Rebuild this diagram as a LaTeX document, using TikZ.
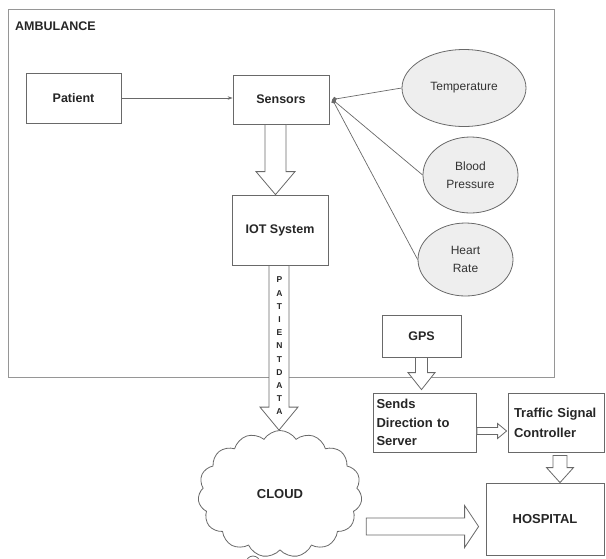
\documentclass[tikz,border=0pt]{standalone}
\usepackage{fontspec}
\setmainfont{Liberation Sans}
\usetikzlibrary{shapes.geometric}
\usetikzlibrary{shapes.symbols}
\usetikzlibrary{arrows.meta}
\usetikzlibrary{calc}

\definecolor{linegray}{RGB}{105,105,105}
\definecolor{framegray}{RGB}{150,150,150}
\definecolor{bubble}{RGB}{238,238,238}

% hollow block arrows: from, to, half shaft, half head, head length
\newcommand{\fatdown}[5]{%
  \draw[fat] let \p1=(#1), \p2=(#2) in
    (\x1-#3,\y1) -- (\x1-#3,\y2+#5) -- (\x1-#4,\y2+#5) -- (\x1,\y2)
    -- (\x1+#4,\y2+#5) -- (\x1+#3,\y2+#5) -- (\x1+#3,\y1) -- cycle;}
\newcommand{\fatright}[5]{%
  \draw[fat] let \p1=(#1), \p2=(#2) in
    (\x1,\y1+#3) -- (\x2-#5,\y1+#3) -- (\x2-#5,\y1+#4) -- (\x2,\y1)
    -- (\x2-#5,\y1-#4) -- (\x2-#5,\y1-#3) -- (\x1,\y1-#3) -- cycle;}

\begin{document}
\begin{tikzpicture}[x=1pt,y=-1pt,
    box/.style={draw=linegray,fill=white,line width=0.8pt,inner sep=0pt,
      text=black!85,font=\fontsize{12.5}{15}\selectfont\bfseries},
    sensor/.style={ellipse,draw=linegray,fill=bubble,line width=0.8pt,inner sep=0pt,
      align=center,text=black!80,font=\fontsize{12}{18}\selectfont},
    fat/.style={draw=linegray,fill=white,line width=0.8pt,line join=miter},
    wire/.style={draw=linegray,line width=0.7pt}]
        \useasboundingbox (0,0) rectangle (606,558);

        % ambulance
        \draw[framegray,line width=0.9pt] (8,9) rectangle (554,377);
        \node[anchor=west,inner sep=0pt,text=black!85,font=\fontsize{12.5}{15}\selectfont\bfseries] (amb) at (15,26) {AMBULANCE};

        \node[box,minimum width=95pt,minimum height=50pt] (patient) at (73.5,98) {Patient};
        \node[box,minimum width=96pt,minimum height=49pt] (sensors) at (281,99.5) {Sensors};
        \node[box,minimum width=96pt,minimum height=70pt] (iot) at (280,230) {IOT System};

        \node[sensor,minimum width=124pt,minimum height=77pt] (temp) at (464,88) {Temperature};
        \node[sensor,minimum width=95pt,minimum height=76pt] (bp) at (470.5,175) {Blood\\Pressure};
        \node[sensor,minimum width=95pt,minimum height=73pt] (hr) at (465.5,259.5) {Heart\\Rate};

        \draw[wire,-{Stealth[length=5pt,width=3.5pt]}] (patient.east) -- (patient.east -| sensors.west);
        \foreach \s in {temp,bp,hr}
        \draw[wire,-{Circle[length=4.5pt]}] (\s.west) -- ([xshift=3pt]sensors.east);

        \fatdown{[xshift=-5.5pt]sensors.south}{iot.north}{10.5pt}{19.5pt}{23pt}

        % outside
        \node[box,minimum width=79pt,minimum height=42pt] (gps) at (421.5,336) {GPS};
        \node[box,minimum width=103pt,minimum height=59pt,text width=97pt,align=left,
          font=\fontsize{13}{18.5}\selectfont\bfseries] (sends) at (425,422.5) {Sends\\Direction to\\Server};
        \node[box,minimum width=96pt,minimum height=59pt,text width=84pt,align=left,
          font=\fontsize{13}{20}\selectfont\bfseries] (traffic) at (556,422.5) {Traffic Signal\\Controller};
        \node[box,minimum width=118pt,minimum height=72pt,font=\fontsize{13}{15}\selectfont\bfseries] (hospital) at (545,519) {HOSPITAL};

        \draw[linegray,line width=0.8pt,fill=white] (253,563) circle[radius=7];
        \node[cloud,draw=linegray,fill=white,line width=0.8pt,cloud puffs=15,cloud puff arc=115,
          aspect=1.3,minimum width=164pt,minimum height=127pt,inner sep=0pt,
          text=black!85,font=\fontsize{13}{15}\selectfont\bfseries] (cloud) at (280,494) {CLOUD};

        \fatdown{[xshift=-1pt]iot.south}{cloud.north}{10pt}{19pt}{23pt}
        \node[inner sep=0pt,align=center,text=black!85,font=\fontsize{8.5}{13.2}\selectfont\bfseries]
          (pdata) at (279.5,346) {P\\A\\T\\I\\E\\N\\T\\D\\A\\T\\A};

        \fatdown{gps.south}{[yshift=3pt]sends.north}{6pt}{13.5pt}{17pt}
        \fatright{[yshift=-8.5pt]sends.east}{[xshift=-1pt]traffic.west}{3.5pt}{7.5pt}{9pt}
        \fatdown{[xshift=4pt,yshift=-3pt]traffic.south}{hospital.north}{7pt}{13.5pt}{15pt}
        \fatright{[xshift=5pt,yshift=-32.5pt]cloud.east}{[xshift=-7pt]hospital.west}{8.5pt}{21pt}{14pt}
    \end{tikzpicture}
\end{document}
